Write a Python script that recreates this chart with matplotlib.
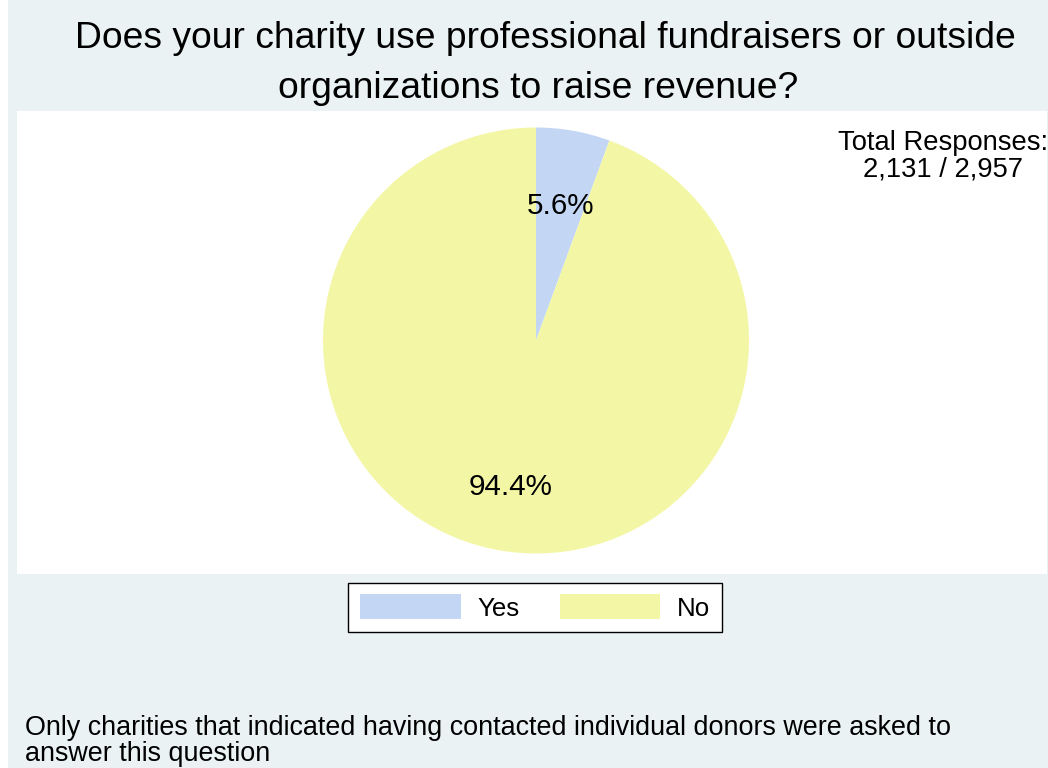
import matplotlib.pyplot as plt
from matplotlib.patches import Rectangle
from matplotlib.transforms import offset_copy

plt.rcParams['font.family'] = ['Liberation Sans', 'DejaVu Sans']

labels = ['Yes', 'No']
shares = [5.6, 94.4]
colors = ['#c3d7f5', '#f3f7a5']
title_lines = ['Does your charity use professional fundraisers or outside',
               'organizations to raise revenue?']
total_lines = ['Total Responses:', '2,131 / 2,957']
note = ('Only charities that indicated having contacted individual donors were asked to\n'
        'answer this question')

W, H = 1048, 768
fig = plt.figure(figsize=(W / 100, H / 100), dpi=100)
fig.patch.set_facecolor('white')
bg = '#eaf2f3'
fig.patches.append(Rectangle((8 / W, 0), (W - 8) / W, 1, transform=fig.transFigure,
                             facecolor=bg, edgecolor='none', zorder=-10))

# plot region (white), in pixel-like data units
x0, x1, ytop, ybot = 17, 1047, 110.5, 574
ax = fig.add_axes([x0 / W, 1 - ybot / H, (x1 - x0) / W, (ybot - ytop) / H])
ax.set_facecolor('white')

wedges, texts, autotexts = ax.pie(
    shares, colors=colors, startangle=90, counterclock=False,
    center=(536, H - 340.5), radius=213,
    autopct='%.1f%%', pctdistance=0.67,
    textprops={'fontsize': 21.3, 'color': 'black'},
    wedgeprops={'linewidth': 0})
for t in autotexts:
    t.set_transform(offset_copy(ax.transData, fig=fig, x=0, y=-6, units='dots'))
ax.set_xlim(x0, x1)
ax.set_ylim(H - ybot, H - ytop)
ax.set_aspect('auto')
ax.set_frame_on(True)
for s in ax.spines.values():
    s.set_visible(False)
ax.set_xticks([])
ax.set_yticks([])

# title
fig.text(545 / W, 1 - 38 / H, title_lines[0], ha='center', va='center', fontsize=26.8)
fig.text(538 / W, 1 - 88 / H, title_lines[1], ha='center', va='center', fontsize=26.8)

# total responses
fig.text(943 / W, 1 - 143 / H, total_lines[0], ha='center', va='center', fontsize=19.7)
fig.text(943 / W, 1 - 169 / H, total_lines[1], ha='center', va='center', fontsize=19.7)

# note
fig.text(25 / W, 1 - 741 / H, note, ha='left', va='center', fontsize=19.4, linespacing=1.0)

leg = fig.legend(wedges, labels, ncol=2, loc='center',
                 bbox_to_anchor=(535 / W, 1 - 607.5 / H),
                 fontsize=18.6, frameon=True, fancybox=False, edgecolor='black',
                 handlelength=3.9, handleheight=1.1, handletextpad=0.63,
                 columnspacing=1.57, borderpad=0.45)
leg.get_frame().set_linewidth(1.0)
leg.get_frame().set_alpha(1)

fig.savefig('out.png', dpi=100, facecolor=fig.get_facecolor())
